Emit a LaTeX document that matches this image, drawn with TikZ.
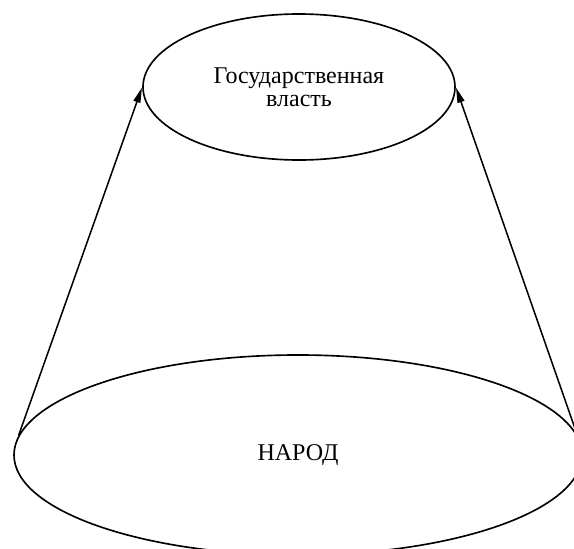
\documentclass[tikz,border=0pt]{standalone}
\usepackage{fontspec}
\setmainfont{Liberation Serif}
\usetikzlibrary{arrows.meta,shapes.geometric}

\begin{document}
\begin{tikzpicture}[x=0.03cm, y=-0.03cm,
  font=\fontsize{20.5}{19.8}\selectfont,
  >={Triangle[length=13pt, width=6pt]},
  ell/.style={draw, ellipse, inner sep=0pt, line width=1.4pt, align=center},
  arr/.style={->, line width=1.3pt, shorten >=0.5pt}]
  \useasboundingbox (0,0) rectangle (574,549);
  \node[ell, minimum width=9.36cm, minimum height=4.38cm] (power) at (299,87) {Государственная\\власть};
  \node[ell, minimum width=17.04cm, minimum height=6cm] (people) at (298,455) {НАРОД};

  \draw[arr] (people.176) -- (power.west);
  \draw[arr] (people.4) -- (power.east);
\end{tikzpicture}
\end{document}
